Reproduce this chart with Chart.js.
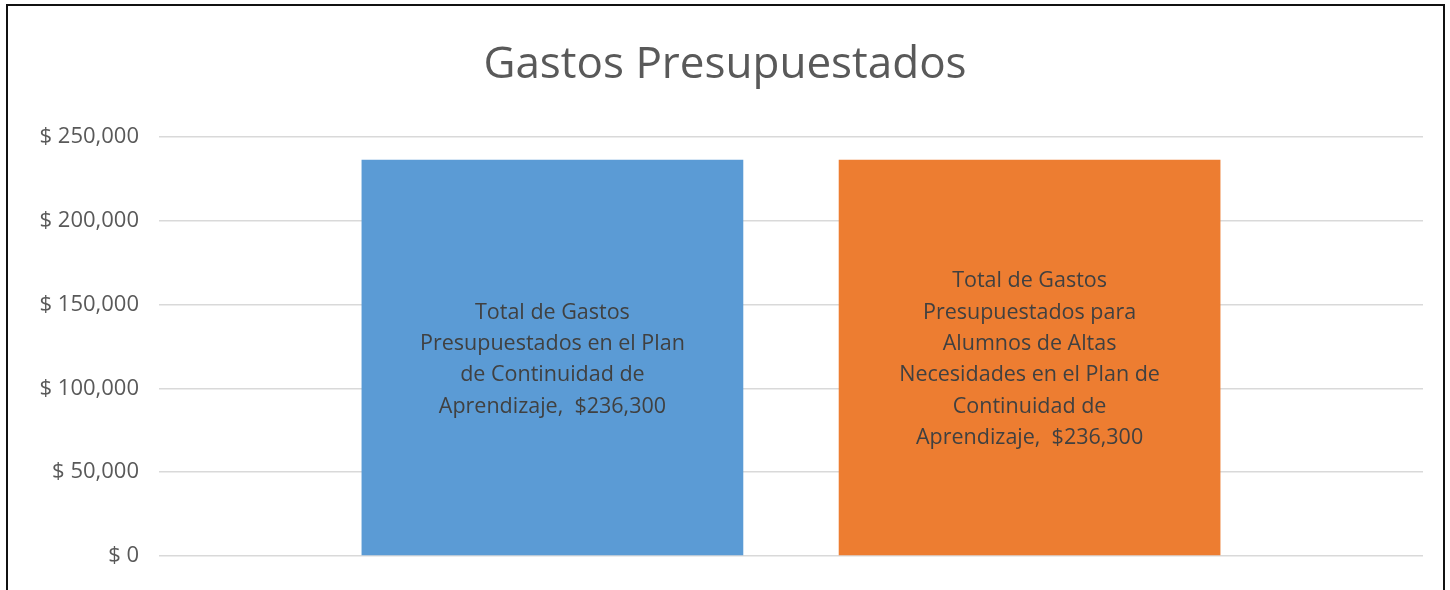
<!DOCTYPE html>
<html>
<head>
<meta charset="utf-8">
<script src="https://cdn.jsdelivr.net/npm/chart.js@4/dist/chart.umd.min.js"></script>
<style>
  html, body { margin: 0; padding: 0; background: #fff; overflow: hidden; }
  #wrap { position: absolute; left: 0; top: 0; width: 1450px; height: 590px; }
  #frame { position: absolute; left: 6px; top: 4px; width: 1435px; height: 620px;
           border: 2px solid #111; pointer-events: none; }
</style>
</head>
<body>
<div id="wrap"><canvas id="chart" width="1450" height="590"></canvas></div>
<div id="frame"></div>
<script>
const categories = [''];
const seriesNames = [
  ['Total de Gastos', 'Presupuestados en el Plan', 'de Continuidad de', 'Aprendizaje'],
  ['Total de Gastos', 'Presupuestados para', 'Alumnos de Altas', 'Necesidades en el Plan de', 'Continuidad de', 'Aprendizaje']
];
const seriesValues = [236300, 236300];
const seriesColors = ['#5B9BD5', '#ED7D31'];
const yTicks = [0, 50000, 100000, 150000, 200000, 250000];

const money = v => v.toLocaleString('en-US');

// draws the name + value inside each bar, like excel's inside-center labels
const barLabels = {
  id: 'barLabels',
  afterDatasetsDraw(chart) {
    const ctx = chart.ctx;
    ctx.save();
    ctx.font = '21.5px "Open Sans"';
    ctx.fillStyle = '#404040';
    ctx.textAlign = 'center';
    ctx.textBaseline = 'middle';
    chart.data.datasets.forEach((ds, i) => {
      const meta = chart.getDatasetMeta(i);
      meta.data.forEach((bar, j) => {
        const lines = ds.nameLines.slice();
        lines[lines.length - 1] += ',  $' + money(ds.data[j]);
        const lh = 31.3;
        const mid = (bar.y + bar.base) / 2 + 2;
        const start = mid - (lines.length - 1) * lh / 2;
        lines.forEach((t, k) => ctx.fillText(t, bar.x, start + k * lh));
      });
    });
    ctx.restore();
  }
};

new Chart(document.getElementById('chart'), {
  type: 'bar',
  data: {
    labels: categories,
    datasets: seriesValues.map((v, i) => ({
      label: seriesNames[i].join(' '),
      nameLines: seriesNames[i],
      data: [v],
      backgroundColor: seriesColors[i],
      categoryPercentage: 0.755,
      barPercentage: 0.8
    }))
  },
  options: {
    responsive: false,
    animation: false,
    layout: { padding: { left: 27, right: 27, bottom: 34, top: 0 } },
    plugins: {
      legend: { display: false },
      tooltip: { enabled: false },
      title: {
        display: true,
        text: 'Gastos Presupuestados',
        color: '#595959',
        font: { family: '"Open Sans"', size: 44, weight: 'normal', lineHeight: 1.2 },
        padding: { top: 39, bottom: 45 }
      }
    },
    scales: {
      x: { display: false },
      y: {
        min: 0,
        max: 250000,
        afterFit(scale) { scale.width = 132; },
        afterBuildTicks(scale) { scale.ticks = yTicks.map(v => ({ value: v })); },
        border: { display: false },
        grid: { color: '#d9d9d9', lineWidth: 1.5, drawTicks: false },
        ticks: {
          padding: 20,
          color: '#595959',
          font: { family: '"Open Sans"', size: 22 },
          callback: v => '$ ' + money(v)
        }
      }
    }
  },
  plugins: [barLabels]
});
</script>
</body>
</html>
